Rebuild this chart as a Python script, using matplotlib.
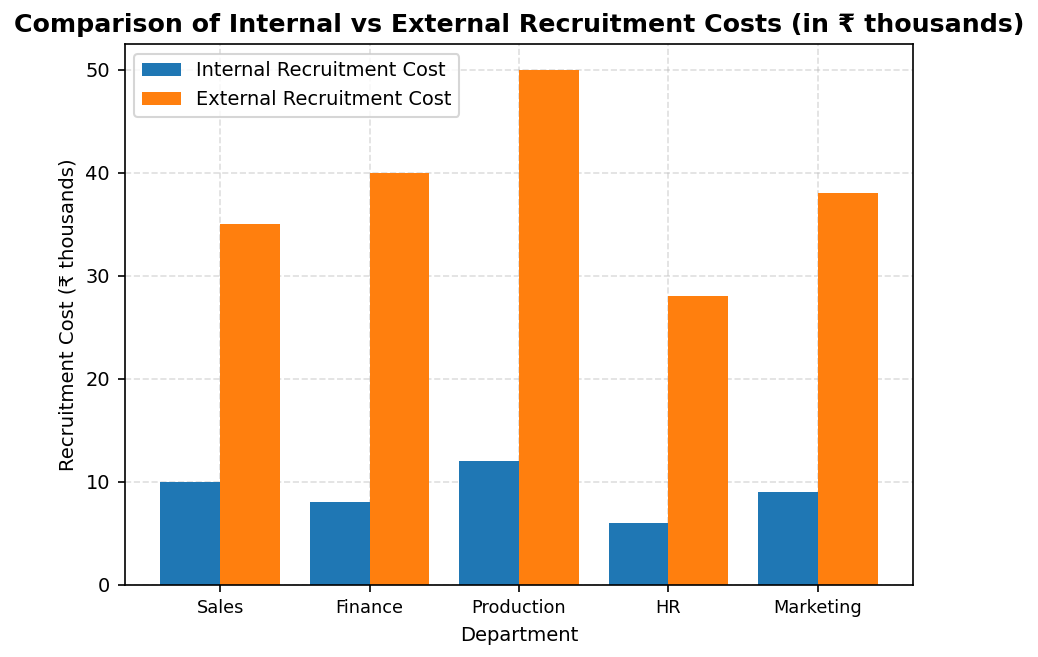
import numpy as np
import matplotlib.pyplot as plt

departments = ['Sales', 'Finance', 'Production', 'HR', 'Marketing']
internal_cost = [10, 8, 12, 6, 9]
external_cost = [35, 40, 50, 28, 38]

x = np.arange(len(departments))
width = 0.4

fig, ax = plt.subplots(figsize=(6.92, 4.38), dpi=150)
fig.subplots_adjust(left=0.120, right=0.880, top=0.933, bottom=0.110)

ax.bar(x - width / 2, internal_cost, width, label='Internal Recruitment Cost', color='#1f77b4', zorder=2)
ax.bar(x + width / 2, external_cost, width, label='External Recruitment Cost', color='#ff7f0e', zorder=2)

ax.set_title('Comparison of Internal vs External Recruitment Costs (in ₹ thousands)',
             fontsize=12.15, fontweight='bold')
ax.set_xlabel('Department', fontsize=9.4)
ax.set_ylabel('Recruitment Cost (₹ thousands)', fontsize=9.4)
ax.set_xticks(x)
ax.set_xticklabels(departments, fontsize=8.5)
ax.tick_params(axis='y', labelsize=9.3)
ax.grid(True, linestyle='--', alpha=0.4, zorder=0)
ax.legend(fontsize=9.3, loc='upper left')

plt.savefig('out.png', dpi=150)
